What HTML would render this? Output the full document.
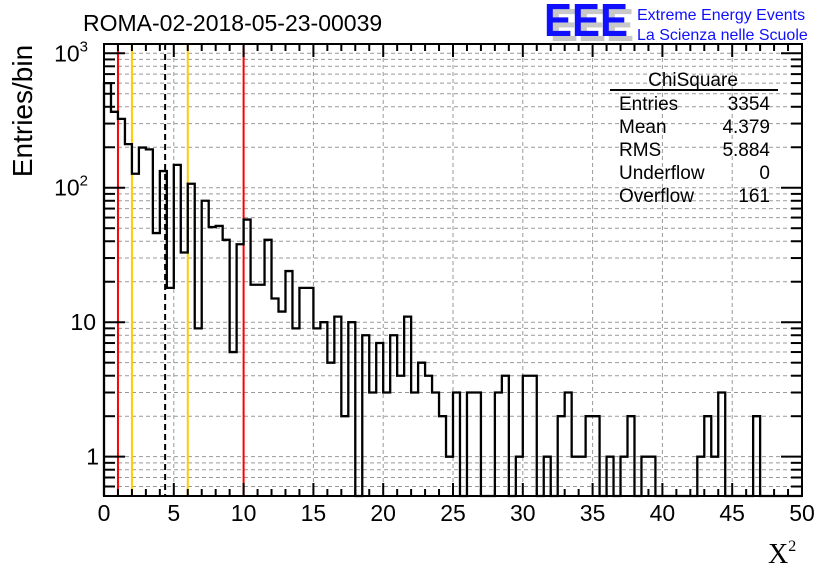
<!DOCTYPE html>
<html><head><meta charset="utf-8">
<style>
body{margin:0;background:#fff;}
svg{display:block;font-family:"Liberation Sans",sans-serif;}
</style></head>
<body>
<svg id="chart" width="836" height="572" viewBox="0 0 836 572">
  <rect width="836" height="572" fill="#fff"/>
  <text x="83" y="31" font-size="23" fill="#000">ROMA-02-2018-05-23-00039</text>
  <g>
    <text x="550" y="41" font-size="46" font-weight="bold" fill="#c8c8c8" textLength="84" lengthAdjust="spacingAndGlyphs">EEE</text>
    <text x="544" y="36" font-size="46" font-weight="bold" fill="#1010ff" textLength="84" lengthAdjust="spacingAndGlyphs">EEE</text>
    <text x="637" y="20" font-size="16" fill="#1010ff">Extreme Energy Events</text>
    <text x="637" y="40" font-size="16" fill="#1010ff">La Scienza nelle Scuole</text>
  </g>
  <g id="grid"></g>
  <g id="marks"></g>
  <g id="axes"></g>
  <g font-size="19" fill="#000">
    <text x="693" y="86" text-anchor="middle">ChiSquare</text>
    <line x1="610" y1="90" x2="778" y2="90" stroke="#000" stroke-width="2"/>
    <text x="619" y="110">Entries</text><text x="770" y="110" text-anchor="end">3354</text>
    <text x="619" y="133">Mean</text><text x="770" y="133" text-anchor="end">4.379</text>
    <text x="619" y="156">RMS</text><text x="770" y="156" text-anchor="end">5.884</text>
    <text x="619" y="179">Underflow</text><text x="770" y="179" text-anchor="end">0</text>
    <text x="619" y="202">Overflow</text><text x="770" y="202" text-anchor="end">161</text>
  </g>
  <text transform="translate(32,111) rotate(-90)" font-size="28" text-anchor="middle">Entries/bin</text>
  <text x="768" y="563" font-size="28" font-family="Liberation Serif,serif">X<tspan font-size="16" dy="-12">2</tspan></text>
</svg>
<script>
const binCounts = [600,367,325,211,127,199,193,46,133,18,148,33,107,9,80,51,52,41,6,38,58,19,19,41,15,12,24,9,18,18,9,10,5,11,2,10,0,8,3,7,3,8,4,11,3,5,4,3,2,1,3,0,3,3,0,0,3,4,0,1,4,4,0,1,0,2,3,1,1,2,2,0,1,0,1,2,0,1,1,0,0,0,0,0,0,1,2,1,3,0,0,0,0,2,0,0,0,0,0,0];
const binWidth = 0.5;
const xTicks = [0,5,10,15,20,25,30,35,40,45,50];
const yDecades = [1,10,100,1000];
const markerLines = [1,2,4.379,6,10];
const markerColors = ["#ff0000","#ffcc00","#000000","#ffcc00","#ff0000"];

const X0=104,X1=802,Y0=44,Y1=496;
const xMin=0,xMax=50;
const yLogMin=Math.log10(0.51), yLogMax=Math.log10(1172);
function xs(v){return X0+(v-xMin)/(xMax-xMin)*(X1-X0);}
function ys(v){const l=Math.log10(Math.max(v,1e-9));const c=Math.max(yLogMin,Math.min(yLogMax,l));return Y1-(c-yLogMin)/(yLogMax-yLogMin)*(Y1-Y0);}
const NS="http://www.w3.org/2000/svg";
function mk(tag,attrs,parent){const e=document.createElementNS(NS,tag);for(const k in attrs)e.setAttribute(k,attrs[k]);parent.appendChild(e);return e;}
const grid=document.getElementById('grid'),marks=document.getElementById('marks'),axes=document.getElementById('axes');

xTicks.forEach(t=>{if(t>xMin&&t<xMax){const l=mk('line',{x1:xs(t),x2:xs(t),y1:Y0,y2:Y1,stroke:'#999',"stroke-dasharray":'4,3'},grid);

}});
yDecades.forEach(d=>{for(let m=1;m<=9;m++){const v=d*m;if(v<0.51||v>1172)continue;const y=ys(v);const l=mk('line',{x1:X0,x2:X1,y1:y,y2:y,stroke:'#999',"stroke-dasharray":'4,3'},grid);

}});
[0.6,0.7,0.8,0.9].forEach(v=>{const y=ys(v);const l=mk('line',{x1:X0,x2:X1,y1:y,y2:y,stroke:'#999',"stroke-dasharray":'4,3'},grid);

});

markerLines.forEach((v,i)=>{const a={x1:xs(v),x2:xs(v),y1:Y0,y2:Y1,stroke:markerColors[i],"stroke-width":2};if(i===2)a["stroke-dasharray"]='6,4';const l=mk('line',a,marks);

});

let d='';
binCounts.forEach((c,i)=>{const xa=xs(i*binWidth),xb=xs((i+1)*binWidth);const y=c>0?ys(c):Y1;
if(i===0)d+='M'+xa+','+Y1;
d+=' L'+xa+','+y+' L'+xb+','+y;});
d+=' L'+xs(binCounts.length*binWidth)+','+Y1;
const h=mk('path',{d:d,fill:'none',stroke:'#000',"stroke-width":2.3},marks);



const fr=mk('rect',{x:X0,y:Y0,width:X1-X0,height:Y1-Y0,fill:'none',stroke:'#000',"stroke-width":2},axes);


for(let v=xMin;v<=xMax;v+=1){const major=v%5===0;const len=major?13:7;const x=xs(v);
mk('line',{x1:x,x2:x,y1:Y1,y2:Y1-len,stroke:'#000',"stroke-width":2},axes);
mk('line',{x1:x,x2:x,y1:Y0,y2:Y0+len,stroke:'#000',"stroke-width":2},axes);}
xTicks.forEach(t=>{const tx=mk('text',{x:xs(t),y:521,"font-size":23,"text-anchor":'middle'},axes);tx.textContent=t;

});
yDecades.forEach(dd=>{for(let m=1;m<=9;m++){const v=dd*m;if(v<0.51||v>1172)continue;const y=ys(v);const len=m===1?21:11;
mk('line',{x1:X0,x2:X0+len,y1:y,y2:y,stroke:'#000',"stroke-width":2},axes);
mk('line',{x1:X1,x2:X1-len,y1:y,y2:y,stroke:'#000',"stroke-width":2},axes);}});
[0.6,0.7,0.8,0.9].forEach(v=>{const y=ys(v);mk('line',{x1:X0,x2:X0+11,y1:y,y2:y,stroke:'#000',"stroke-width":2},axes);mk('line',{x1:X1,x2:X1-11,y1:y,y2:y,stroke:'#000',"stroke-width":2},axes);});
const yl=[["1",""],["10",""],["10","2"],["10","3"]];
yDecades.forEach((v,i)=>{const t=mk('text',{x:i===0?99:(i===1?96:88),y:ys(v)+8,"font-size":23,"text-anchor":'end'},axes);


t.textContent=yl[i][0];if(yl[i][1]){const s=mk('tspan',{"font-size":15,dy:-10},t);s.textContent=yl[i][1];}});
</script>
</body></html>
